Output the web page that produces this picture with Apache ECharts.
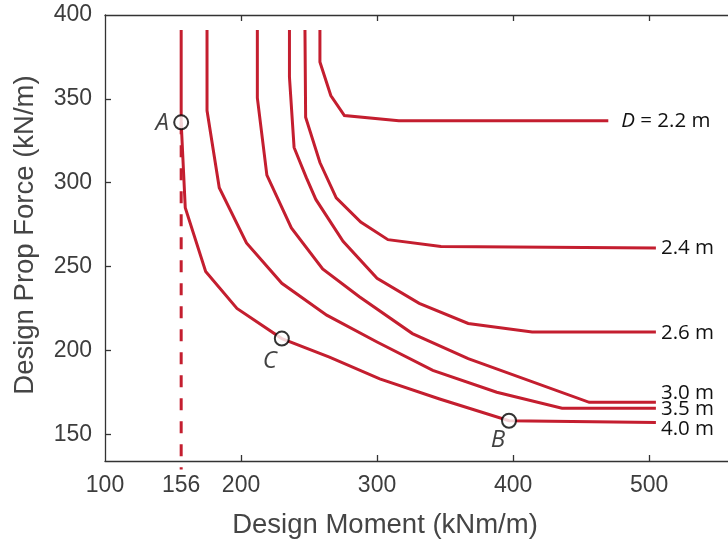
<!DOCTYPE html>
<html>
<head>
<meta charset="utf-8">
<script src="https://cdn.jsdelivr.net/npm/echarts@6/dist/echarts.min.js"></script>
<style>
html,body{margin:0;padding:0;background:#fff;}
#chart{width:728px;height:541px;}
</style>
</head>
<body>
<div id="chart"></div>
<script>
// ---- data ----
const xTickLabels = [100, 156, 200, 300, 400, 500];
const xTicks = [200, 300, 400, 500];
const yTickLabels = [150, 200, 250, 300, 350, 400];
const yTicks = [150, 200, 250, 300, 350];

const curve22 = [[258,391],[258,372],[266,352],[276,340],[316,337],[470,337]];
const curve24 = [[247,391],[247.5,339],[258,312],[270,291],[288,276.5],[308,266],[347,262],[505,261]];
const curve26 = [[235.6,391],[235.6,363],[239,321],[248,303],[255,290],[275,265],[300,243],[331,228],[367,216],[414,211],[505,211]];
const curve30 = [[212,391],[212,350.5],[219,304.5],[237,273],[260,248.5],[287,232],[326,210],[367,195],[456,169],[505,169]];
const curve35 = [[175,391],[175,343],[184,297],[204,264],[230,240],[263,221],[300,205],[341,188],[388,175],[436,165.5],[505,165.5]];
const curve40 = [[156,391],[156,336],[159,285],[174,247],[197,225],[230,207],[265,196],[302,183],[346,171],[397,158],[505,157]];
const curveNames = ['D = 2.2 m', '2.4 m', '2.6 m', '3.0 m', '3.5 m', '4.0 m'];
const minMomentLine = [[156,336],[156,129]];
const pointNames = ['A', 'C', 'B'];
const pointValues = [[156,336],[230,207],[397,158]];

// ---- styling ----
const RED = '#c41e2f';
const AX = '#333333';
const TICKFONT = {fontFamily: 'Liberation Sans, Arial, sans-serif', fontSize: 23, color: '#3d3d3d'};
const ANNOT = {fontFamily: 'Open Sans, sans-serif', fontSize: 20.5, color: '#111'};

const curves = [curve22, curve24, curve26, curve30, curve35, curve40];
const labelOffsets = [[8, 1], [0, 0], [0, 1], [0, -9], [0, 1], [0, 7]];

const series = curves.map((c, i) => ({
  type: 'line',
  data: c,
  symbol: 'none',
  silent: true,
  lineStyle: {color: RED, width: 3, join: 'miter'},
  z: 3,
  endLabel: {
    show: true,
    offset: labelOffsets[i],
    distance: 5,
    formatter: i === 0 ? '{it|D} = 2.2 m' : curveNames[i],
    fontFamily: ANNOT.fontFamily, fontSize: ANNOT.fontSize, color: ANNOT.color,
    rich: {it: {fontFamily: ANNOT.fontFamily, fontSize: ANNOT.fontSize, fontStyle: 'italic', color: ANNOT.color}}
  }
}));

series.push({
  type: 'line',
  data: minMomentLine,
  symbol: 'none',
  clip: false,
  silent: true,
  lineStyle: {color: RED, width: 3, type: [12, 11]},
  z: 2
});

const ptLabelOffsets = [[-19, 1], [-12, 23], [-11, 19]];
series.push({
  type: 'scatter',
  symbol: 'circle',
  symbolSize: 14,
  z: 5,
  itemStyle: {color: '#fff', borderColor: '#000', borderWidth: 2},
  data: pointValues.map((v, i) => ({
    value: v,
    name: pointNames[i],
    label: {
      show: true,
      position: 'inside',
      offset: ptLabelOffsets[i],
      formatter: pointNames[i],
      fontFamily: ANNOT.fontFamily,
      fontSize: 24,
      fontStyle: 'italic',
      color: '#111'
    }
  }))
});

const chart = echarts.init(document.getElementById('chart'), null, {renderer: 'canvas'});
chart.setOption({
  animation: false,
  backgroundColor: '#fff',
  grid: {left: 105, right: 0, top: 15, bottom: 80, containLabel: false, outerBoundsMode: 'none'},
  xAxis: [{
    type: 'value', position: 'bottom', min: 100, max: 558,
    axisLine: {show: true, onZero: false, lineStyle: {color: AX, width: 1.3}},
    axisTick: {show: true, inside: true, length: 6, customValues: xTicks, lineStyle: {color: AX, width: 1.3}},
    axisLabel: {show: true, margin: 13, customValues: xTickLabels, showMinLabel: true, showMaxLabel: true, ...TICKFONT},
    splitLine: {show: false}
  }, {
    type: 'value', position: 'top', min: 100, max: 558,
    axisLine: {show: true, onZero: false, lineStyle: {color: AX, width: 1.3}},
    axisTick: {show: true, inside: true, length: 6, customValues: xTicks, lineStyle: {color: AX, width: 1.3}},
    axisLabel: {show: false},
    splitLine: {show: false}
  }],
  yAxis: [{
    type: 'value', min: 134, max: 400,
    axisLine: {show: true, onZero: false, lineStyle: {color: AX, width: 1.3}},
    axisTick: {show: true, inside: true, length: 6, customValues: yTicks, lineStyle: {color: AX, width: 1.3}},
    axisLabel: {show: true, margin: 13, customValues: yTickLabels, showMinLabel: true, showMaxLabel: true, ...TICKFONT},
    splitLine: {show: false}
  }],
  graphic: [{
    type: 'text', x: 385, y: 525,
    style: {text: 'Design Moment (kNm/m)', fontFamily: 'Liberation Sans, Arial, sans-serif', fontSize: 27.5, fill: '#454545', align: 'center', verticalAlign: 'middle'}
  }, {
    type: 'text', x: 25, y: 235, rotation: Math.PI / 2,
    style: {text: 'Design Prop Force (kN/m)', fontFamily: 'Liberation Sans, Arial, sans-serif', fontSize: 27.5, fill: '#454545', align: 'center', verticalAlign: 'middle'}
  }],
  series: series
});
</script>
</body>
</html>
